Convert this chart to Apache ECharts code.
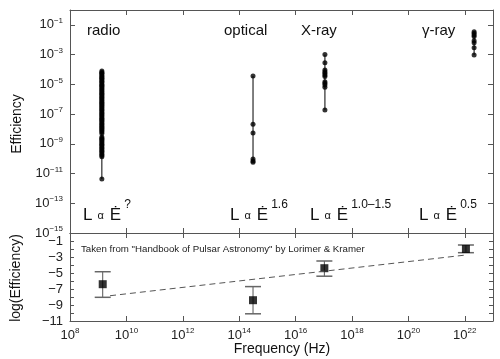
<!DOCTYPE html>
<html><head><meta charset="utf-8">
<script src="https://cdn.jsdelivr.net/npm/echarts@6/dist/echarts.min.js"></script>
<style>html,body{margin:0;padding:0;background:#fff}#c{width:500px;height:359px}</style>
</head><body><div id="c"></div>
<script>
// exponents (log10)
const radioFreq = 9.13;
const radioEff = [-4.10,-4.18,-4.25,-4.31,-4.4,-4.47,-4.55,-4.6,-4.68,-4.77,-4.83,-4.9,-5.0,-5.07,-5.13,-5.22,-5.3,-5.36,-5.45,-5.52,-5.6,-5.66,-5.75,-5.83,-5.9,-5.97,-6.05,-6.12,-6.2,-6.28,-6.35,-6.42,-6.5,-6.58,-6.66,-6.73,-6.8,-6.9,-6.97,-7.05,-7.12,-7.2,-7.28,-7.35,-7.43,-7.5,-7.6,-7.66,-7.74,-7.82,-7.9,-7.97,-8.05,-8.13,-8.2,-8.3,-8.55,-8.62,-8.7,-8.78,-8.86,-8.95,-9.03,-9.1,-9.2,-9.28,-9.35,-9.45,-9.52,-9.6,-9.7,-9.78,-9.87,-11.37];
const opticalFreq = 14.49;
const opticalEff = [-4.44,-7.69,-8.27,-10.02,-10.15,-10.24];
const xrayFreq = 17.04;
const xrayEff = [-3.0,-3.54,-4.03,-4.15,-4.26,-4.37,-4.48,-4.82,-4.93,-5.04,-5.2,-6.72];
const gammaFreq = 22.33;
const gammaEff = [-1.46,-1.57,-1.68,-1.79,-2.06,-2.2,-2.54,-3.03];

const bandNames = ['radio','optical','X-ray','γ-ray'];
const bandExponents = ['?','1.6','1.0–1.5','0.5'];

// lower panel: log(Efficiency) with error bars
const meanFreq = [9.16, 14.49, 17.02, 22.04];
const meanLogEff = [-6.4, -8.4, -4.4, -2.0];
const errHigh = [-4.84, -6.7, -3.5, -1.5];
const errLow = [-8.04, -10.1, -5.4, -2.46];
const fitFreq = [9.42, 22.04];
const fitLogEff = [-7.84, -2.75];

const xTicks = [8,10,12,14,16,18,20,22];
const yTopTicks = [-15,-13,-11,-9,-7,-5,-3,-1];
const yBotTicks = [-11,-10,-9,-8,-7,-6,-5,-4,-3,-2,-1];
const yBotLabels = [-11,-9,-7,-5,-3,-1];

const FONT = '"Liberation Sans", Arial, sans-serif';
const axisCol = '#555';
const sup = (e) => '{b|10}{s|' + String(e).replace('-', '−') + '}';
const richTick = {
  b: {fontSize: 13, fontFamily: FONT, color: '#222'},
  s: {fontSize: 8, fontFamily: FONT, color: '#222', padding: [0,0,8,0]}
};

const chart = echarts.init(document.getElementById('c'));
const G = [
  {left: 70, right: 7, top: 10, height: 223},
  {left: 70, right: 7, top: 233, height: 88}
];
function xAx(grid, pos, labels) {
  return {
    type: 'value', gridIndex: grid, position: pos, min: 8, max: 23,
    axisLine: {show: true, onZero: false, lineStyle: {color: axisCol, width: 1}},
    axisTick: {show: true, inside: true, length: 5, customValues: xTicks, lineStyle: {color: axisCol}},
    axisLabel: {show: labels, customValues: xTicks, formatter: v => sup(v), rich: richTick, margin: 6},
    splitLine: {show: false}
  };
}
function yAx(grid, pos, labels, mn, mx, ticks, lbls, fmt, tl) {
  return {
    type: 'value', gridIndex: grid, position: pos, min: mn, max: mx,
    axisLine: {show: true, onZero: false, lineStyle: {color: axisCol, width: 1}},
    axisTick: {show: true, inside: true, length: tl, customValues: ticks, lineStyle: {color: axisCol}},
    axisLabel: {show: labels, customValues: lbls, formatter: fmt, rich: richTick, margin: 7,
      fontSize: 13, fontFamily: FONT, color: '#222'},
    splitLine: {show: false}
  };
}

function band(freq, eff) {
  return [
    {type: 'line', xAxisIndex: 0, yAxisIndex: 0, symbol: 'none', silent: true,
     data: [[freq, Math.max(...eff)], [freq, Math.min(...eff)]],
     lineStyle: {color: '#000', width: 1}},
    {type: 'scatter', xAxisIndex: 0, yAxisIndex: 0, symbol: 'circle', symbolSize: 5,
     itemStyle: {color: '#000'}, data: eff.map(e => [freq, e])}
  ];
}

const series = [
  ...band(radioFreq, radioEff),
  ...band(opticalFreq, opticalEff),
  ...band(xrayFreq, xrayEff),
  ...band(gammaFreq, gammaEff),
  {type: 'line', xAxisIndex: 2, yAxisIndex: 2, symbol: 'none',
   data: fitFreq.map((f, i) => [f, fitLogEff[i]]),
   lineStyle: {color: '#555', width: 1, type: [6, 4]}},
  {type: 'custom', xAxisIndex: 2, yAxisIndex: 2,
   data: meanFreq.map((f, i) => [f, errLow[i], errHigh[i]]),
   renderItem: (params, api) => {
     const lo = api.coord([api.value(0), api.value(1)]);
     const hi = api.coord([api.value(0), api.value(2)]);
     const hw = 8;
     const st = {stroke: '#555', lineWidth: 1};
     return {type: 'group', children: [
       {type: 'line', shape: {x1: lo[0], y1: lo[1], x2: hi[0], y2: hi[1]}, style: st},
       {type: 'line', shape: {x1: lo[0]-hw, y1: lo[1], x2: lo[0]+hw, y2: lo[1]}, style: {stroke: '#666', lineWidth: 1.5}},
       {type: 'line', shape: {x1: hi[0]-hw, y1: hi[1], x2: hi[0]+hw, y2: hi[1]}, style: {stroke: '#666', lineWidth: 1.5}}
     ]};
   }},
  {type: 'scatter', xAxisIndex: 2, yAxisIndex: 2, symbol: 'rect', symbolSize: 8,
   itemStyle: {color: '#000'}, data: meanFreq.map((f, i) => [f, meanLogEff[i]])}
];

// text positions
const bandLabelX = [87, 224, 301, 422];
const lawX = [83, 230, 310, 419];
const graphics = [];
bandNames.forEach((n, i) => graphics.push({type: 'text', left: bandLabelX[i], top: 23,
  style: {text: n, font: '15px ' + FONT, fill: '#111'}}));
bandExponents.forEach((e, i) => graphics.push({type: 'text', left: lawX[i], top: 199,
  style: {text: '{L|L}{a|α}{E|Ė}{s|' + e + '}', fill: '#111',
    rich: {L: {fontSize: 17, fontFamily: FONT, lineHeight: 28, verticalAlign: 'bottom', padding: [0,5,0,0]},
           a: {fontSize: 11, fontFamily: FONT, lineHeight: 28, verticalAlign: 'bottom', padding: [0,6,3,0]},
           E: {fontSize: 17, fontFamily: FONT, lineHeight: 28, verticalAlign: 'bottom'},
           s: {fontSize: 12, fontFamily: FONT, padding: [0,0,13,3], verticalAlign: 'bottom'}}}}));
graphics.push({type: 'text', left: 81, top: 244,
  style: {text: 'Taken from "Handbook of Pulsar Astronomy" by Lorimer & Kramer', font: '9.7px ' + FONT, fill: '#222'}});
graphics.push({type: 'text', x: 17, y: 124, rotation: Math.PI/2,
  style: {text: 'Efficiency', font: '14px ' + FONT, fill: '#111', align: 'center', verticalAlign: 'middle'}});
graphics.push({type: 'text', x: 16, y: 278, rotation: Math.PI/2,
  style: {text: 'log(Efficiency)', font: '14px ' + FONT, fill: '#111', align: 'center', verticalAlign: 'middle'}});
graphics.push({type: 'text', x: 282, y: 349,
  style: {text: 'Frequency (Hz)', font: '14px ' + FONT, fill: '#111', align: 'center', verticalAlign: 'middle'}});

chart.setOption({
  animation: false,
  grid: G,
  xAxis: [xAx(0,'bottom',false), xAx(0,'top',false), xAx(1,'bottom',true), xAx(1,'top',false)],
  yAxis: [
    yAx(0,'left',true,-15,0,yTopTicks,yTopTicks,v => sup(v),5),
    yAx(0,'right',false,-15,0,yTopTicks,yTopTicks,v => sup(v),5),
    yAx(1,'left',true,-11,0,yBotTicks,yBotLabels,v => String(v).replace('-', '−'),4),
    yAx(1,'right',false,-11,0,yBotTicks,yBotLabels,v => String(v),4)
  ],
  series: series,
  graphic: graphics
});
</script></body></html>
